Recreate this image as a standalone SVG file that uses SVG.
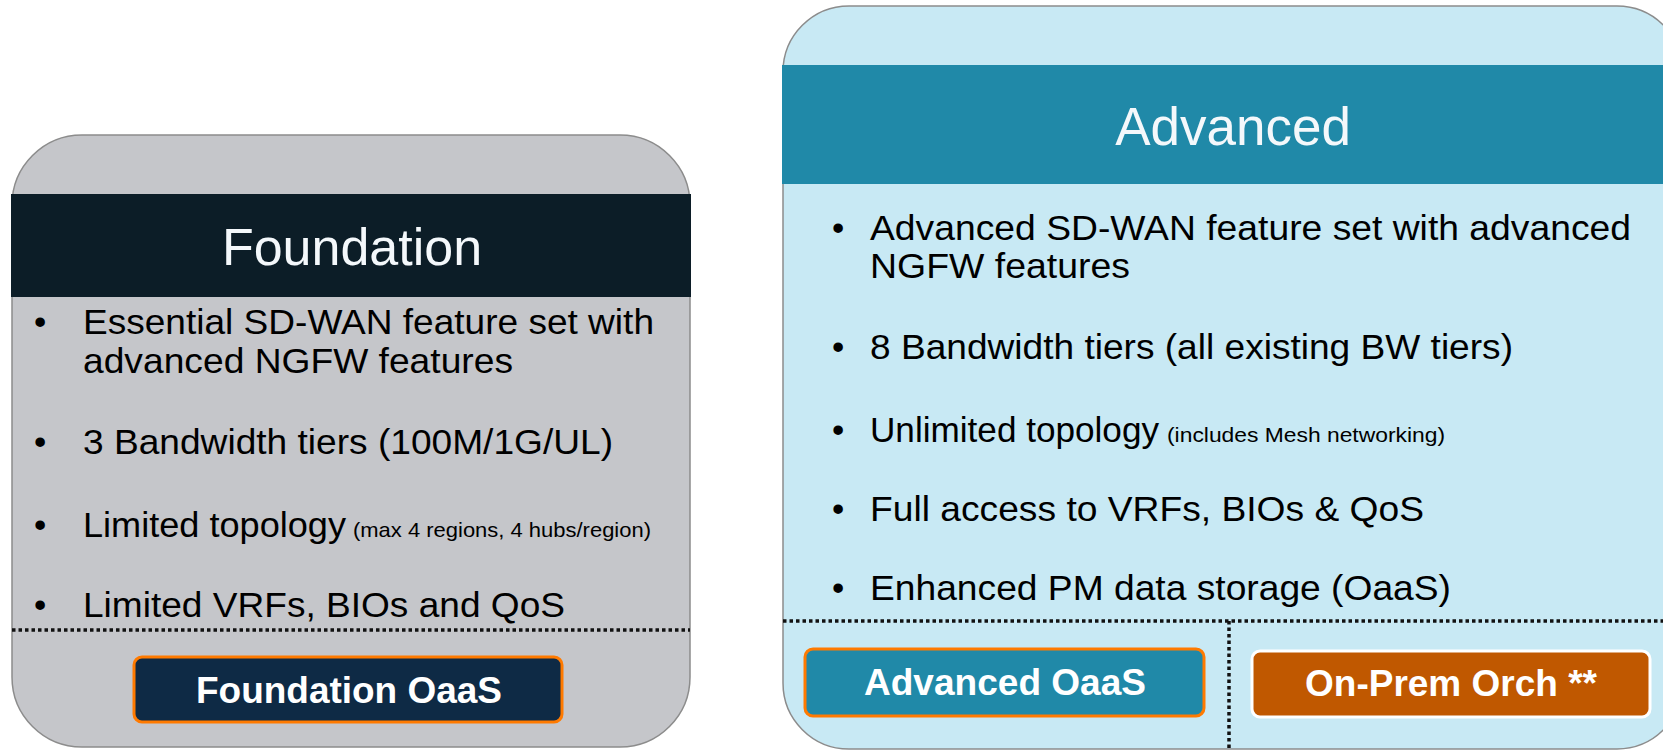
<svg xmlns="http://www.w3.org/2000/svg" width="1663" height="751" viewBox="0 0 1663 751">
<style>
  .card-f { fill: #c5c6ca; stroke: #8c8c8c; stroke-width: 1.5; }
  .card-a { fill: #c8e9f4; stroke: #8c8c8c; stroke-width: 1.5; }
  .title { font-family: "Liberation Sans", Arial, sans-serif; fill: #f4f8fb; text-anchor: middle; }
  .body { font-family: "Liberation Sans", Arial, sans-serif; font-size: 35px; fill: #000; }
  .small { font-family: "Liberation Sans", Arial, sans-serif; font-size: 21px; fill: #000; }
  .btn-text { font-family: "Liberation Sans", Arial, sans-serif; font-size: 36px; font-weight: bold; fill: #fff; text-anchor: middle; }
  .dots { stroke: #111; stroke-width: 3.5; stroke-dasharray: 3.5 3; fill: none; }
</style>

<g id="foundation">
  <rect class="card-f" x="12" y="135" width="678" height="612" rx="70" ry="70"/>
  <rect x="11" y="194" width="680" height="103" fill="#0c1d27"/>
  <text class="title" x="352" y="265" font-size="52">Foundation</text>
  <text class="body" x="34" y="334">•</text>
  <text class="body" x="83" y="334" textLength="571" lengthAdjust="spacingAndGlyphs">Essential SD-WAN feature set with</text>
  <text class="body" x="83" y="373" textLength="430" lengthAdjust="spacingAndGlyphs">advanced NGFW features</text>
  <text class="body" x="34" y="454">•</text>
  <text class="body" x="83" y="454" textLength="530" lengthAdjust="spacingAndGlyphs">3 Bandwidth tiers (100M/1G/UL)</text>
  <text class="body" x="34" y="537">•</text>
  <text class="body" x="83" y="537" textLength="263" lengthAdjust="spacingAndGlyphs">Limited topology</text>
  <text class="small" x="353" y="537" textLength="298" lengthAdjust="spacingAndGlyphs">(max 4 regions, 4 hubs/region)</text>
  <text class="body" x="34" y="617">•</text>
  <text class="body" x="83" y="617" textLength="482" lengthAdjust="spacingAndGlyphs">Limited VRFs, BIOs and QoS</text>
</g>

<g id="foundation-oaas">
  <rect x="134" y="657" width="428" height="65" rx="8" ry="8" fill="#0e2a45" stroke="#ff7a00" stroke-width="3"/>
  <text class="btn-text" x="349" y="703" textLength="306" lengthAdjust="spacingAndGlyphs">Foundation OaaS</text>
</g>

<g id="advanced">
  <rect class="card-a" x="783" y="6" width="900" height="743" rx="66" ry="66"/>
  <rect x="782" y="65" width="902" height="119" fill="#2089a8"/>
  <text class="title" x="1233" y="145" font-size="53">Advanced</text>
  <text class="body" x="832" y="240">•</text>
  <text class="body" x="870" y="240" textLength="761" lengthAdjust="spacingAndGlyphs">Advanced SD-WAN feature set with advanced</text>
  <text class="body" x="870" y="278" textLength="260" lengthAdjust="spacingAndGlyphs">NGFW features</text>
  <text class="body" x="832" y="359">•</text>
  <text class="body" x="870" y="359" textLength="643" lengthAdjust="spacingAndGlyphs">8 Bandwidth tiers (all existing BW tiers)</text>
  <text class="body" x="832" y="442">•</text>
  <text class="body" x="870" y="442" textLength="289" lengthAdjust="spacingAndGlyphs">Unlimited topology</text>
  <text class="small" x="1167" y="442" textLength="278" lengthAdjust="spacingAndGlyphs">(includes Mesh networking)</text>
  <text class="body" x="832" y="521">•</text>
  <text class="body" x="870" y="521" textLength="554" lengthAdjust="spacingAndGlyphs">Full access to VRFs, BIOs &amp; QoS</text>
  <text class="body" x="832" y="600">•</text>
  <text class="body" x="870" y="600" textLength="581" lengthAdjust="spacingAndGlyphs">Enhanced PM data storage (OaaS)</text>
</g>

<g id="advanced-oaas">
  <rect x="805" y="649" width="399" height="67" rx="8" ry="8" fill="#2089a8" stroke="#ff7a00" stroke-width="3"/>
  <text class="btn-text" x="1005" y="695" textLength="282" lengthAdjust="spacingAndGlyphs">Advanced OaaS</text>
</g>

<g id="on-prem-orch">
  <rect x="1252" y="651" width="398" height="66" rx="8" ry="8" fill="#c05800" stroke="#ffffff" stroke-width="3"/>
  <text class="btn-text" x="1451" y="696" textLength="292" lengthAdjust="spacingAndGlyphs">On-Prem Orch **</text>
</g>

<g id="connectors">
  <line class="dots" x1="12" y1="630" x2="690" y2="630"/>
  <line class="dots" x1="783" y1="621" x2="1663" y2="621"/>
  <line class="dots" x1="1229" y1="621" x2="1229" y2="751"/>
</g>
</svg>
